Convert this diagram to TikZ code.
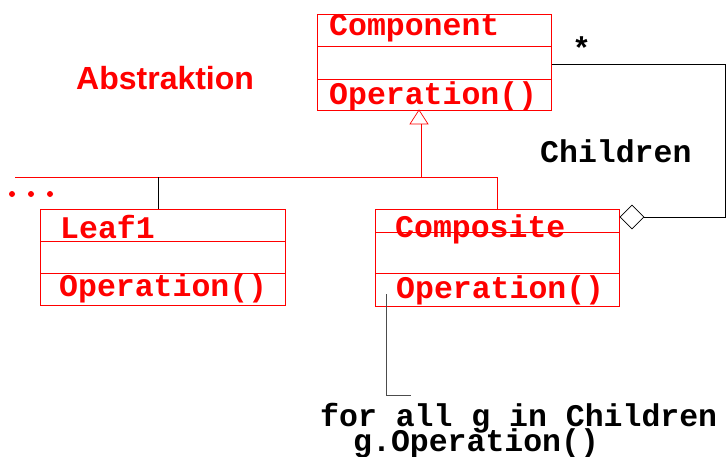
\documentclass[tikz,border=0pt]{standalone}
\usepackage{fontspec}
\setmainfont{Liberation Sans}
\setmonofont{Liberation Mono}
\usetikzlibrary{shapes.geometric,calc}
\begin{document}
\begin{tikzpicture}[x=1pt,y=-1pt,
  classbox/.style={draw=red, line width=0.8pt, inner sep=0pt, anchor=north west},
  divider/.style={draw=red, line width=0.8pt},
  mono/.style={inner sep=0pt, anchor=base west, font=\fontsize{31.5}{31.5}\selectfont\ttfamily\bfseries},
  redmono/.style={mono, text=red},
  inherit/.style={draw=red, line width=0.7pt},
  link/.style={draw=black, line width=0.7pt},
  dot/.style={circle, fill=red, inner sep=0pt, minimum size=6pt}]
\useasboundingbox (0,0) rectangle (727,457);

% Component class
\node[classbox, minimum width=234pt, minimum height=96pt] (comp) at (317,14) {};
\draw[divider] (317,46) -- (551,46) (317,79) -- (551,79);
\node[redmono] (compname) at (329,36) {Component};
\node[redmono] (compop) at (329,105) {Operation()};

% Leaf class
\node[classbox, minimum width=245pt, minimum height=96pt] (leaf) at (40,209) {};
\draw[divider] (40,241) -- (285,241) (40,273) -- (285,273);
\node[redmono] (leafname) at (60,238) {Leaf1};
\node[redmono] (leafop) at (59,296) {Operation()};

% Composite class
\node[classbox, minimum width=244pt, minimum height=97pt] (compo) at (375,209) {};
\draw[divider] (375,232) -- (619,232) (375,273) -- (619,273);
\node[redmono] (componame) at (395,237) {Composite};
\node[redmono] (compoop) at (396,298) {Operation()};

% Labels
\node[inner sep=0pt, anchor=base west, text=red, font=\fontsize{32}{32}\selectfont\bfseries] (abs) at (76,90) {Abstraktion};
\node[mono] (star) at (572,60) {*};
\node[mono] (children) at (540,163) {Children};
\node[mono] (note1) at (320,426) {for all g in Children};
\node[mono] (note2) at (353,451) {g.Operation()};

% Generalization: triangle and tree
\draw[inherit] (419,110) -- (428,124) -- (410,124) -- cycle;
\coordinate (trib) at (421,124);
\coordinate (bus) at (421,177);
\coordinate (busl) at (15,177);
\coordinate (busr) at (compo.north |- bus);
\coordinate (leafj) at ($(leaf.north west)+(118,0)$);
\draw[inherit] (trib) -- (bus);
\draw[inherit] (busl) -- (busr) -- (compo.north);
\draw[link] (leafj |- bus) -- (leafj);

% More leaves
\node[dot] (d1) at (12,194) {};
\node[dot] (d2) at (31,194) {};
\node[dot] (d3) at (50,194) {};

% Aggregation Composite -> Component
\node[diamond, draw=black, fill=white, line width=0.7pt, inner sep=0pt, minimum width=24pt, minimum height=24pt] (agg) at (632,217) {};
\coordinate (cr) at (comp.east |- 0,64);
\draw[link] (cr) -- (725,64) -- (725,217) -- (agg.east);

% Note connector
\coordinate (ns) at (386,294);
\coordinate (ne) at (411,395);
\draw[draw=black!70, line width=0.8pt] (ns) -- (ns |- ne) -- (ne);
\end{tikzpicture}
\end{document}
